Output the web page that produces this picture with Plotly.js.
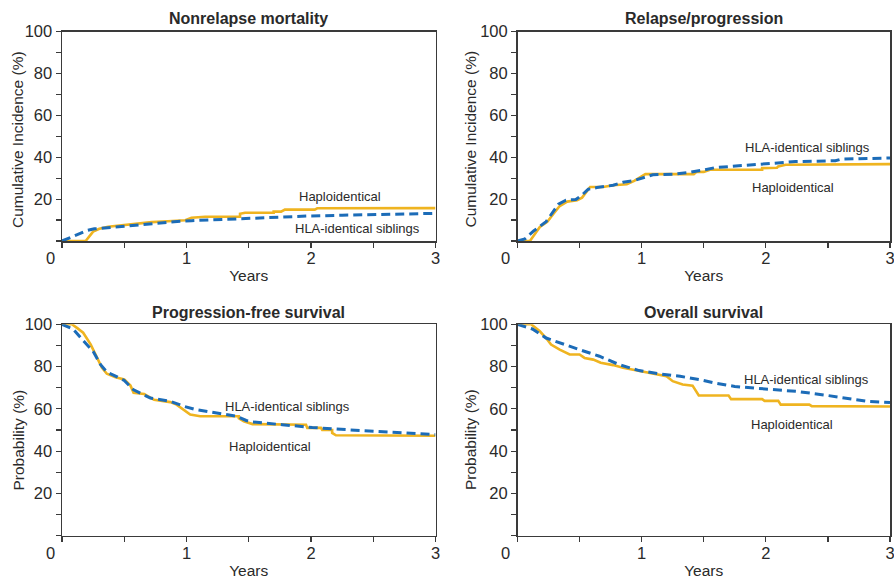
<!DOCTYPE html>
<html>
<head>
<meta charset="utf-8">
<script src="https://cdn.plot.ly/plotly-3.0.1.min.js"></script>
<style>html,body{margin:0;padding:0;background:#fff;}#chart{width:894px;height:579px;}</style>
</head>
<body>
<div id="chart"></div>
<script>
// Panel titles and labels
const panelTitles = ["Nonrelapse mortality", "Relapse/progression", "Progression-free survival", "Overall survival"];
const yTitles = ["Cumulative Incidence (%)", "Cumulative Incidence (%)", "Probability (%)", "Probability (%)"];
const xTitle = "Years";
const seriesNames = ["Haploidentical", "HLA-identical siblings"];
const xTickVals = [1, 2, 3];
const xTickText = ["1", "2", "3"];
const yTickVals = [20, 40, 60, 80, 100];
const yTickText = ["20", "40", "60", "80", "100"];

// Nonrelapse mortality (curve paths)
const nrmHaploX = [0, 0.19, 0.25, 0.30, 0.37, 0.45, 0.50, 0.60, 0.72, 0.85, 0.99, 1.04, 1.15, 1.43, 1.43, 1.47, 1.70, 1.70, 1.76, 1.79, 2.03, 2.05, 3.0];
const nrmHaploY = [0, 0, 4.5, 5.8, 6.8, 7.3, 7.6, 8.2, 9.0, 9.4, 9.9, 11.1, 11.6, 11.6, 13.0, 13.5, 13.5, 14.0, 14.0, 15.0, 15.0, 15.6, 15.7];
const nrmSibX = [0, 0.06, 0.13, 0.2, 0.26, 0.37, 0.5, 0.62, 0.77, 0.9, 1.04, 1.26, 1.47, 1.7, 1.97, 2.25, 2.51, 2.75, 3.0];
const nrmSibY = [0, 1.5, 3.5, 5.0, 5.8, 6.4, 7.1, 7.8, 8.8, 9.2, 9.7, 10.3, 10.8, 11.3, 11.9, 12.3, 12.7, 13.0, 13.2];

// Relapse/progression
const relHaploX = [0, 0.10, 0.18, 0.24, 0.29, 0.34, 0.40, 0.48, 0.52, 0.585, 0.69, 0.77, 0.88, 0.94, 1.03, 1.42, 1.44, 1.50, 1.55, 1.97, 1.97, 2.09, 2.10, 2.16, 3.0];
const relHaploY = [0, 0, 6.7, 9.2, 13, 16.7, 18.8, 19.4, 20.7, 25.8, 25.8, 26.6, 27.1, 28.7, 31.9, 31.9, 32.9, 33.0, 34.0, 34.0, 34.8, 35.0, 35.6, 36.4, 36.7];
const relSibX = [0, 0.06, 0.13, 0.23, 0.33, 0.39, 0.47, 0.52, 0.57, 0.64, 0.77, 0.85, 0.93, 1.03, 1.09, 1.25, 1.38, 1.49, 1.59, 1.78, 1.97, 2.08, 2.24, 2.56, 2.61, 3.0];
const relSibY = [0, 1, 4.8, 9.2, 17.6, 19.5, 19.8, 22, 24.7, 25.5, 26.6, 28, 28.7, 30.7, 31.6, 31.9, 32.7, 33.8, 35, 35.9, 36.7, 37.5, 37.9, 38.3, 39.1, 39.6];

// Progression-free survival
const pfsHaploX = [0, 0.08, 0.12, 0.17, 0.23, 0.27, 0.32, 0.36, 0.43, 0.5, 0.55, 0.575, 0.66, 0.74, 0.87, 0.92, 0.97, 1.03, 1.11, 1.42, 1.42, 1.46, 1.53, 1.96, 1.97, 2.08, 2.09, 2.17, 2.17, 2.2, 3.0];
const pfsHaploY = [100, 100, 98.3, 96, 90.5, 85.7, 79.5, 76.6, 75, 73.9, 71, 67.6, 67, 64.3, 63.2, 62, 60, 57.3, 56.5, 56.5, 55.5, 54.1, 52.8, 52.5, 51, 51, 50, 50, 48.6, 47.5, 47.3];
const pfsSibX = [0, 0.09, 0.17, 0.25, 0.31, 0.36, 0.43, 0.5, 0.575, 0.71, 0.87, 0.98, 1.08, 1.24, 1.40, 1.48, 1.53, 1.77, 2.01, 2.30, 2.57, 2.97, 3.0];
const pfsSibY = [100, 97.7, 92.3, 87.2, 80.9, 77.4, 75.5, 73.4, 69, 65.1, 63.6, 61.2, 59.6, 58, 56.5, 54.5, 53.8, 52.5, 51.2, 50.1, 49.1, 47.8, 47.8];

// Overall survival
const osHaploX = [0, 0.11, 0.18, 0.23, 0.27, 0.34, 0.42, 0.50, 0.54, 0.61, 0.67, 0.77, 0.85, 0.98, 1.09, 1.20, 1.25, 1.33, 1.41, 1.46, 1.70, 1.72, 1.97, 1.99, 2.10, 2.12, 2.35, 2.37, 3.0];
const osHaploY = [100, 100, 96.7, 93.5, 90.4, 88, 85.7, 85.7, 84.1, 83.3, 81.8, 80.7, 79.4, 77.8, 76.5, 75.4, 73.1, 71.5, 71, 66.3, 66.3, 64.6, 64.6, 63.8, 63.8, 62.0, 62.0, 61.3, 61.1];
const osSibX = [0, 0.12, 0.23, 0.34, 0.50, 0.66, 0.82, 0.98, 1.15, 1.31, 1.47, 1.59, 1.75, 1.91, 2.07, 2.26, 2.50, 2.66, 2.83, 3.0];
const osSibY = [100, 97.8, 93.5, 91.2, 88, 84.9, 80.9, 78.1, 76.5, 75.4, 73.8, 72.2, 70.6, 69.8, 69, 68.2, 66.3, 65.1, 63.5, 63.0];

// In-plot label positions [x, y] per panel
const haploLabelPos = [[2.23, 21.4], [2.22, 25.5], [1.67, 42.1], [2.21, 52.4]];
const sibLabelPos = [[2.37, 5.9], [2.335, 44.6], [1.81, 61.0], [2.33, 74.1]];

const panels = [
  [nrmHaploX, nrmHaploY, nrmSibX, nrmSibY],
  [relHaploX, relHaploY, relSibX, relSibY],
  [pfsHaploX, pfsHaploY, pfsSibX, pfsSibY],
  [osHaploX, osHaploY, osSibX, osSibY]
];

const W = 894, H = 579;
const colDom = [[62 / W, 435.5 / W], [517.5 / W, 890 / W]];
const rowDom = [[1 - 241 / H, 1 - 31.5 / H], [1 - 535.7 / H, 1 - 324.3 / H]];
const yTitleX = [17.5 / W, 470 / W];
const yTitleY = [1 - 139.5 / H, 1 - 440 / H];
const titleY = [1 - 18.5 / H, 1 - 312.7 / H];
const HAPLO = '#EFB420', SIB = '#1C6CB8', TXT = '#2a2a2a', AX = '#3a3a3a';
const FONT = 'Liberation Sans, Arial, sans-serif';

const data = [];
const layout = {
  width: W, height: H,
  margin: {l: 0, r: 0, t: 0, b: 0},
  paper_bgcolor: '#fff', plot_bgcolor: '#fff',
  showlegend: false,
  font: {family: FONT, color: TXT, size: 15},
  annotations: []
};

panels.forEach((p, i) => {
  const col = i % 2, row = Math.floor(i / 2);
  const n = i === 0 ? '' : String(i + 1);
  const xa = 'x' + n, ya = 'y' + n;
  data.push({x: p[0], y: p[1], xaxis: xa, yaxis: ya, type: 'scatter', mode: 'lines', name: seriesNames[0],
    line: {color: HAPLO, width: 2.6, shape: 'linear'}});
  data.push({x: p[2], y: p[3], xaxis: xa, yaxis: ya, type: 'scatter', mode: 'lines', name: seriesNames[1],
    line: {color: SIB, width: 3, shape: 'linear', dash: '9px,5px'}});
  layout['xaxis' + n] = {
    domain: colDom[col], anchor: ya, range: [0, 3],
    showgrid: false, zeroline: false, showline: true, mirror: true, linecolor: AX, linewidth: 1.5,
    tickmode: 'array', tickvals: xTickVals, ticktext: xTickText,
    ticks: 'outside', ticklen: 5, tickcolor: AX, tickwidth: 1.2,
    ticklabeloverflow: 'allow', ticklabelstandoff: -3,
    tickfont: {size: 16.5, color: TXT, family: FONT},
    minor: {tickmode: 'linear', tick0: 0, dtick: 0.5, ticks: 'outside', ticklen: 5, tickcolor: AX, tickwidth: 1.2, showgrid: false},
    title: {text: xTitle, font: {size: 15.5, color: TXT, family: FONT}, standoff: 4},
    fixedrange: true
  };
  layout['yaxis' + n] = {
    domain: rowDom[row], anchor: xa, range: [0, 100],
    showgrid: false, zeroline: false, showline: true, mirror: true, linecolor: AX, linewidth: 1.5,
    tickmode: 'array', tickvals: yTickVals, ticktext: yTickText,
    ticks: 'outside', ticklen: 5, tickcolor: AX, tickwidth: 1.2,
    ticklabeloverflow: 'allow',
    tickfont: {size: 16.5, color: TXT, family: FONT},
    minor: {tickmode: 'linear', tick0: 0, dtick: 10, ticks: 'outside', ticklen: 5, tickcolor: AX, tickwidth: 1.2, showgrid: false},
    fixedrange: true
  };
  // y-axis title
  layout.annotations.push({xref: 'paper', yref: 'paper', x: yTitleX[col], y: yTitleY[row], text: yTitles[i],
    textangle: -90, showarrow: false, xanchor: 'center', yanchor: 'middle', font: {size: 15.5, color: TXT, family: FONT}});
  // shared origin label
  layout.annotations.push({xref: xa, yref: ya, x: 0, y: 0, text: '0', showarrow: false,
    xshift: -12, yshift: -17, xanchor: 'center', yanchor: 'middle', font: {size: 16.5, color: TXT, family: FONT}});
  // panel title
  const cx = (colDom[col][0] + colDom[col][1]) / 2;
  layout.annotations.push({xref: 'paper', yref: 'paper', x: cx, y: titleY[row], text: '<b>' + panelTitles[i] + '</b>',
    showarrow: false, xanchor: 'center', yanchor: 'middle', font: {size: 16, color: TXT, family: FONT}});
  // series labels
  layout.annotations.push({xref: xa, yref: ya, x: haploLabelPos[i][0], y: haploLabelPos[i][1], text: seriesNames[0],
    showarrow: false, xanchor: 'center', yanchor: 'middle', font: {size: 13, color: TXT, family: FONT}});
  layout.annotations.push({xref: xa, yref: ya, x: sibLabelPos[i][0], y: sibLabelPos[i][1], text: seriesNames[1],
    showarrow: false, xanchor: 'center', yanchor: 'middle', font: {size: 13, color: TXT, family: FONT}});
});

Plotly.newPlot('chart', data, layout, {staticPlot: true, displayModeBar: false});
</script>
</body>
</html>
